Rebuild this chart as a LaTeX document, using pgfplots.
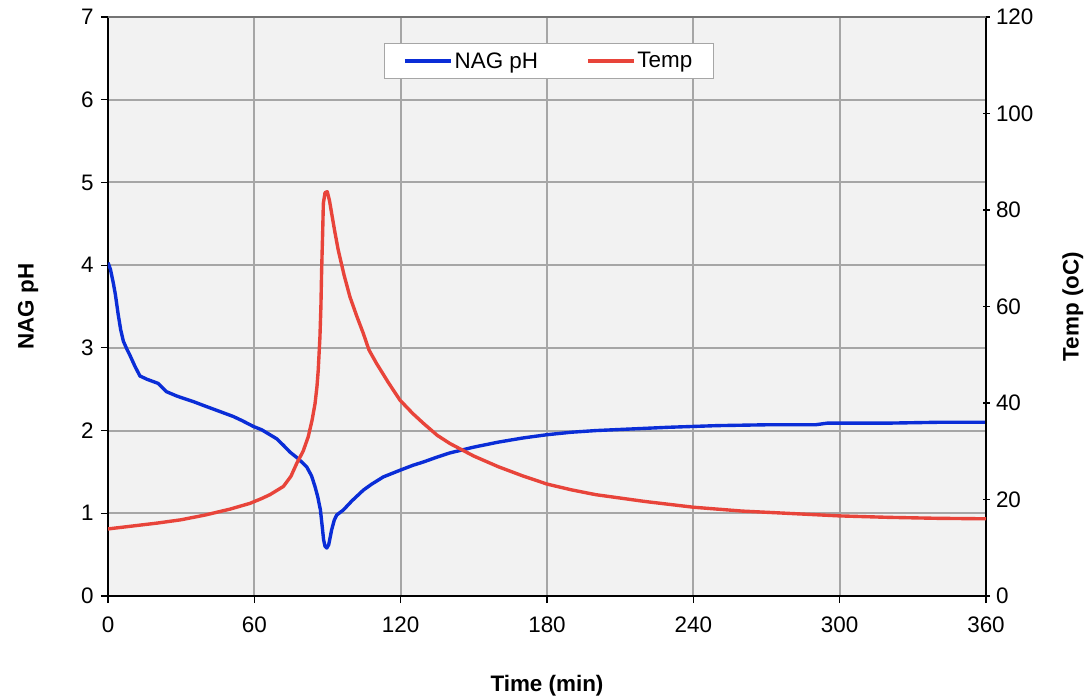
\documentclass[border=0pt]{standalone}
\usepackage{pgfplots}
\pgfplotsset{compat=1.18}
\usepackage{fontspec}
\setmainfont{Liberation Sans}
\definecolor{phblue}{RGB}{10,45,215}
\definecolor{tred}{RGB}{232,68,58}
\definecolor{gridgray}{RGB}{166,166,166}
\definecolor{bggray}{RGB}{242,242,242}
\begin{document}
\begin{tikzpicture}
\pgfplotsset{
  common/.style={
    scale only axis, width=878bp, height=579bp,
    xmin=0, xmax=360,
    tick style={black, line width=1.2pt},
    major tick length=7bp,
    ticklabel style={font=\fontsize{22.5}{26}\selectfont},
    /pgf/number format/assume math mode=true,
    label style={font=\fontsize{22.5}{26}\selectfont\bfseries},
  }
}
\begin{axis}[common,
  axis background/.style={fill=bggray},
  ymin=0, ymax=7,
  xtick={0,60,...,360},
  ytick={0,1,...,7},
  tick align=outside,
  grid=major,
  grid style={gridgray, line width=2pt},
  axis line style={black, line width=1.3pt},
  xtick pos=bottom, ytick pos=left,
  xticklabel style={yshift=-10bp},
  yticklabel style={xshift=-4bp},
  xlabel={Time (min)}, ylabel={NAG pH},
  xlabel style={yshift=-36bp},
  ylabel style={yshift=36bp},
]
\addplot[phblue, line width=3.4pt, line join=round] coordinates {
(0,4.03) (1,3.95) (2.2,3.78) (3,3.65) (4.2,3.40) (5.2,3.22) (6.3,3.08) (7.5,3.00)
(9,2.91) (11,2.78) (13.1,2.66) (16,2.62) (20.6,2.57) (24,2.47) (28,2.42) (30.9,2.39)
(35,2.35) (40.4,2.29) (45,2.24) (51.4,2.17) (55,2.12) (59.6,2.05) (63,2.01) (66.4,1.95)
(69.2,1.90) (72,1.82) (74.6,1.74) (78,1.66) (81.5,1.56) (83.5,1.45) (84.9,1.32) (86,1.20)
(87.1,1.04) (87.8,0.85) (88.4,0.68) (89,0.60) (89.7,0.58) (90.5,0.62) (91.7,0.80) (92.8,0.92)
(93.8,0.98) (96.5,1.04) (100,1.15) (104.7,1.28) (108,1.35) (112.9,1.44) (119.7,1.52) (125,1.58)
(129.3,1.62) (135,1.68) (140.2,1.73) (150,1.80) (160,1.86) (170,1.91) (180,1.95) (190,1.98)
(200,2.00) (215,2.02) (230,2.04) (250,2.06) (270,2.07) (290,2.07) (295,2.09) (320,2.09)
(340,2.10) (360,2.10)
};
\end{axis}
\begin{axis}[common,
  ymin=0, ymax=120,
  ytick={0,20,...,120},
  tick align=center,
  axis x line=none,
  axis y line*=right,
  axis line style={black, line width=1.3pt, -},
  yticklabel style={xshift=3bp},
  ylabel={Temp (oC)},
  ylabel style={yshift=-22bp},
  legend style={at={(0.502,0.924)}, anchor=center, draw=gridgray, line width=1.5pt,
    fill=white, font=\fontsize{22.5}{26}\selectfont, legend columns=2,
    /tikz/every even column/.append style={column sep=46bp},
    inner xsep=19bp, inner ysep=7bp},
  legend cell align=left,
  legend image code/.code={\draw[#1, line width=3.4pt] (0bp,0bp) -- (46bp,0bp);},
]
\addlegendimage{phblue}
\addlegendentry{NAG pH}
\addplot[tred, line width=3.4pt, line join=round] coordinates {
(0,13.9) (10,14.5) (20,15.1) (30,15.8) (40,16.8) (50,18.0) (58.2,19.2) (63,20.2)
(66.4,21.0) (71.9,22.7) (75,24.8) (77.4,27.5) (80,30.0) (82.1,33.0) (83.7,36.5) (84.9,39.9)
(85.7,43.5) (86.2,46.8) (86.9,53.7) (87.3,60) (87.6,67.6) (88,75) (88.3,81.4) (89,83.6)
(89.9,83.8) (90.8,82) (91.7,79.3) (93,75.5) (94.4,71.7) (96.8,66.5) (99.2,62.0) (102,58)
(104.7,54.4) (107,51) (110.1,48.2) (115,44.2) (119.7,40.6) (125,37.8) (129.3,35.8) (135,33.3)
(140.2,31.6) (150,29.0) (160,26.8) (170,24.9) (180,23.2) (190,22.0) (200,21.0) (220,19.6)
(240,18.4) (260,17.6) (280,17.1) (300,16.6) (320,16.3) (340,16.1) (360,16.0)
};
\addlegendentry{Temp}
\end{axis}
\draw[gridgray!70!black, line width=1.3pt] (current axis.north west) -- (current axis.north east);
\pgfresetboundingbox
\path ([xshift=-108bp,yshift=-104bp]current axis.south west) rectangle ([xshift=104bp,yshift=17bp]current axis.north east);
\end{tikzpicture}
\end{document}
